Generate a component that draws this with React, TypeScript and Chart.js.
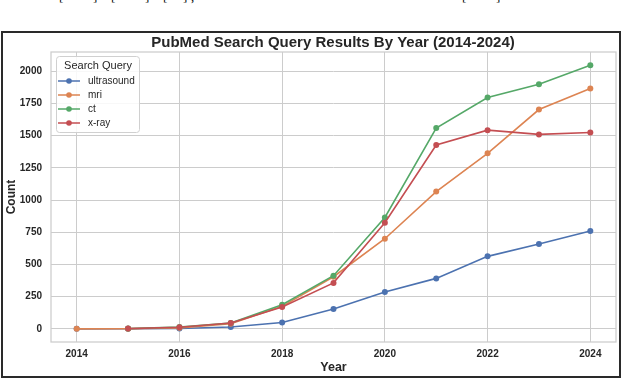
import React, { useEffect, useRef } from "react";
import Chart from "chart.js/auto";

const years = [2014, 2015, 2016, 2017, 2018, 2019, 2020, 2021, 2022, 2023, 2024];
const ultrasound = [0, 1, 3, 15, 50, 155, 287, 392, 563, 659, 760];
const mri = [0, 1, 8, 40, 175, 405, 700, 1066, 1363, 1703, 1866];
const ct = [null, 2, 14, 45, 188, 413, 865, 1560, 1797, 1900, 2048];
const xray = [null, 2, 12, 46, 170, 357, 824, 1428, 1543, 1510, 1525];
const seriesNames = ["ultrasound", "mri", "ct", "x-ray"];
const xTicks = [2014, 2016, 2018, 2020, 2022, 2024];
const yTicks = [0, 250, 500, 750, 1000, 1250, 1500, 1750, 2000];

const COLORS = ["#4C72B0", "#DD8452", "#55A868", "#C44E52"];
const FONT = "'Liberation Sans', Arial, Helvetica, sans-serif";
const TEXT = "#262626";

const decor = {
  id: "decor",
  afterDraw(chart: any) {
    const { ctx, chartArea } = chart;
    const { left, right, top, bottom } = chartArea;
    ctx.save();
    // plot frame
    ctx.strokeStyle = "#cccccc";
    ctx.lineWidth = 1.25;
    ctx.strokeRect(left, top, right - left, bottom - top);
    // title
    ctx.fillStyle = TEXT;
    ctx.textAlign = "center";
    ctx.textBaseline = "middle";
    ctx.font = `bold 15px ${FONT}`;
    ctx.fillText("PubMed Search Query Results By Year (2014-2024)", 333, 43);
    // x title
    ctx.font = `bold 12.5px ${FONT}`;
    ctx.fillText("Year", (left + right) / 2, 368);
    // y title
    ctx.save();
    ctx.translate(11.5, (top + bottom) / 2);
    ctx.rotate(-Math.PI / 2);
    ctx.font = `bold 12px ${FONT}`;
    ctx.fillText("Count", 0, 0);
    ctx.restore();
    // legend
    const bx = 56, by = 56, bw = 83, bh = 76;
    ctx.fillStyle = "rgba(255,255,255,0.85)";
    ctx.strokeStyle = "#d0d0d0";
    ctx.lineWidth = 1;
    ctx.beginPath();
    if ((ctx as any).roundRect) (ctx as any).roundRect(bx + 0.5, by + 0.5, bw, bh, 3);
    else ctx.rect(bx + 0.5, by + 0.5, bw, bh);
    ctx.fill();
    ctx.stroke();
    ctx.fillStyle = TEXT;
    ctx.textAlign = "center";
    ctx.font = `11px ${FONT}`;
    ctx.fillText("Search Query", bx + bw / 2 + 0.5, 65.5);
    ctx.textAlign = "left";
    ctx.font = `10px ${FONT}`;
    seriesNames.forEach((name, i) => {
      const y = 81 + i * 14;
      ctx.strokeStyle = COLORS[i];
      ctx.lineWidth = 1.5;
      ctx.beginPath();
      ctx.moveTo(58, y);
      ctx.lineTo(80, y);
      ctx.stroke();
      ctx.fillStyle = COLORS[i];
      ctx.beginPath();
      ctx.arc(69, y, 2.8, 0, Math.PI * 2);
      ctx.fill();
      ctx.fillStyle = TEXT;
      ctx.fillText(name, 88, y + 0.5);
    });
    ctx.restore();
  },
};

export default function App() {
  const ref = useRef<HTMLCanvasElement>(null);
  useEffect(() => {
    const series = [ultrasound, mri, ct, xray];
    const datasets = series.map((arr, i) => ({
      label: seriesNames[i],
      data: years.map((yr, j) => ({ x: yr, y: arr[j] })),
      borderColor: COLORS[i],
      backgroundColor: COLORS[i],
      borderWidth: 1.6,
      pointRadius: 3,
      pointBorderWidth: 0,
      pointHoverRadius: 3,
      tension: 0,
      order: 4 - i,
    }));
    const tickFont = { family: FONT, size: 10, weight: "bold" as const };
    const chart = new Chart(ref.current!, {
      type: "line",
      data: { datasets },
      options: {
        animation: false,
        responsive: false,
        devicePixelRatio: 1,
        layout: { padding: { left: 0, top: 52, right: 6, bottom: 0 } },
        plugins: { legend: { display: false }, title: { display: false }, tooltip: { enabled: false } },
        scales: {
          x: {
            type: "linear",
            min: 2013.5,
            max: 2024.5,
            afterBuildTicks: (s: any) => { s.ticks = xTicks.map((v) => ({ value: v })); },
            afterFit: (s: any) => { s.height = 38; },
            ticks: { font: tickFont, color: TEXT, padding: 6, maxRotation: 0, autoSkip: false, callback: (v: any) => String(v) },
            grid: { color: "#cccccc", lineWidth: 1, drawTicks: false },
            border: { display: false },
          },
          y: {
            type: "linear",
            min: -102,
            max: 2150,
            afterBuildTicks: (s: any) => { s.ticks = yTicks.map((v) => ({ value: v })); },
            afterFit: (s: any) => { s.width = 51; },
            ticks: { font: tickFont, color: TEXT, padding: 9, autoSkip: false, callback: (v: any) => String(v) },
            grid: { color: "#cccccc", lineWidth: 1, drawTicks: false },
            border: { display: false },
          },
        },
      },
      plugins: [decor],
    });
    return () => chart.destroy();
  }, []);

  const bracket = (x: number, ch: string) => (
    <span
      key={x + ch}
      style={{ position: "absolute", left: x, top: -10, font: "13px 'Liberation Serif', serif", lineHeight: "13px", color: "#000" }}
    >
      {ch}
    </span>
  );

  return (
    <div style={{ position: "absolute", left: 0, top: 0, width: 622, height: 380, background: "#fff", overflow: "hidden" }}>
      <div style={{ position: "absolute", left: 0, top: 0, width: 622, height: 4, overflow: "hidden" }}>
        {bracket(59, "[")}
        {bracket(93, "]")}
        {bracket(111, "[")}
        {bracket(145, "]")}
        {bracket(163, "[")}
        {bracket(183, "]")}
        {bracket(191, ",")}
        {bracket(462, "[")}
        {bracket(496, "]")}
      </div>
      <canvas ref={ref} width={622} height={380} style={{ position: "absolute", left: 0, top: 0 }} />
      <div
        style={{
          position: "absolute",
          left: 1,
          top: 31,
          width: 620,
          height: 347,
          boxSizing: "border-box",
          border: "2px solid #2a2a2a",
          pointerEvents: "none",
        }}
      />
    </div>
  );
}
